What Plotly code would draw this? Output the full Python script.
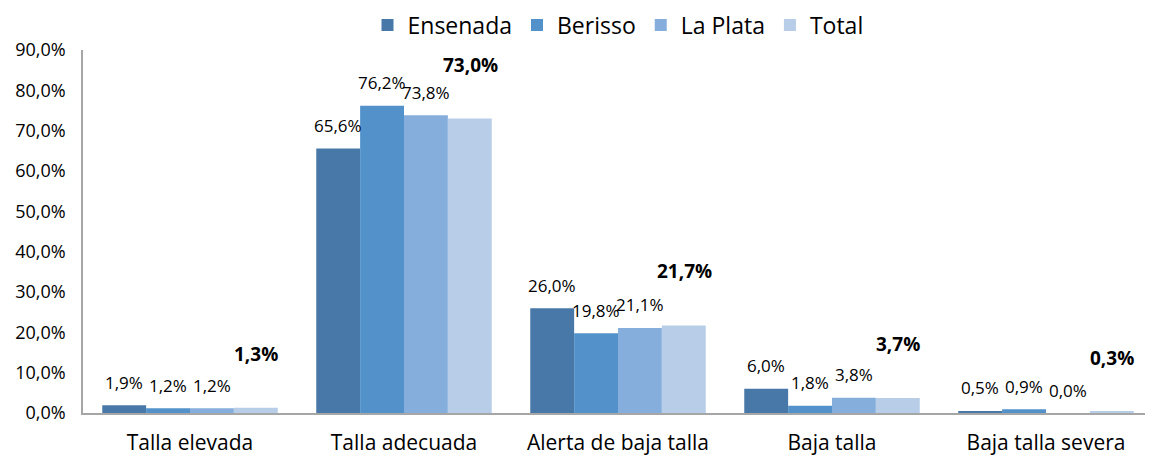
import plotly.graph_objects as go

categories = ["Talla elevada", "Talla adecuada", "Alerta de baja talla", "Baja talla", "Baja talla severa"]
series_names = ["Ensenada", "Berisso", "La Plata", "Total"]
ensenada = [1.9, 65.6, 26.0, 6.0, 0.5]
berisso = [1.2, 76.2, 19.8, 1.8, 0.9]
la_plata = [1.2, 73.8, 21.1, 3.8, 0.0]
total = [1.3, 73.0, 21.7, 3.7, 0.3]
y_ticks = [0, 10, 20, 30, 40, 50, 60, 70, 80, 90]

colors = ["#4878A8", "#5291C9", "#85AEDC", "#B8CDE8"]
all_series = [ensenada, berisso, la_plata, total]
FONT = "'Open Sans', sans-serif"

# page body has an 8px margin: figure starts at (8, 8)
FIG_W, FIG_H = 1145, 450
M_T, M_B = 42, 45
PLOT_H = FIG_H - M_T - M_B


def fmt(v):
    return f"{v:.1f}".replace(".", ",") + "%"


fig = go.Figure()
for name, vals, col in zip(series_names, all_series, colors):
    fig.add_trace(go.Bar(name=name, x=categories, y=vals, marker_color=col,
                         marker_line_width=0))

offsets = [-66, -22, 22, 66]
annotations = []
for i, (vals, off) in enumerate(zip(all_series, offsets)):
    bold = i == 3
    for c, v in zip(categories, vals):
        annotations.append(dict(
            x=c, y=v, xref="x", yref="y",
            text=("<b>%s</b>" % fmt(v)) if bold else fmt(v),
            showarrow=False, xshift=off,
            yshift=54 if bold else 23,
            font=dict(size=19 if bold else 17, color="#000000", family=FONT),
        ))

fig.update_layout(
    width=FIG_W, height=FIG_H,
    margin=dict(l=75, r=0, t=M_T, b=M_B, autoexpand=False),
    paper_bgcolor="white", plot_bgcolor="white",
    barmode="group", bargap=0.18, bargroupgap=0,
    font=dict(family=FONT, color="#000000"),
    legend=dict(orientation="h", x=0.5, xanchor="center",
                yref="paper", y=1 + 25 / PLOT_H, yanchor="middle",
                font=dict(size=23, family=FONT),
                traceorder="normal", bgcolor="rgba(0,0,0,0)",
                borderwidth=0),
    annotations=annotations,
    showlegend=True,
)
fig.update_xaxes(showline=True, linecolor="#A6A6A6", linewidth=1.5, ticks="",
                 tickfont=dict(size=21, family=FONT), showgrid=False,
                 automargin=False, ticklabelstandoff=10)
fig.update_yaxes(range=[0, 90], tickvals=y_ticks, ticktext=[fmt(t) for t in y_ticks],
                 showline=True, linecolor="#A6A6A6", linewidth=1.5, ticks="",
                 showgrid=False, zeroline=False, automargin=False,
                 ticklabelstandoff=12,
                 tickfont=dict(size=18, family=FONT))

fig.write_html("out.html")
